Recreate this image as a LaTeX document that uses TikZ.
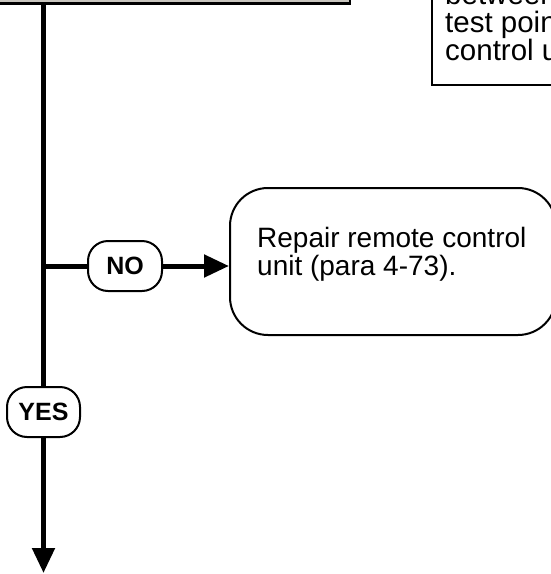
\documentclass[tikz,border=0pt]{standalone}
\usepackage{fontspec}
\setmainfont{Liberation Sans}
\usetikzlibrary{arrows.meta}
\definecolor{boxgray}{RGB}{200,197,190}
\begin{document}
\begin{tikzpicture}[x=1pt,y=-1pt,
  flow/.style={line width=5pt},
  tip/.style={-{Triangle[width=22pt,length=25pt]}},
  lbl/.style={draw,line width=2pt,rounded corners=20pt,minimum height=50pt,inner sep=0pt,
    font=\fontsize{25}{25}\selectfont\bfseries,fill=white},
  plainbox/.style={draw,line width=2pt,inner sep=0pt},
  txt/.style={font=\fontsize{28}{28}\selectfont,inner sep=0pt,anchor=base west,align=left}]
\useasboundingbox (0,0) rectangle (551,574);
\clip (0,0) rectangle (551,574);

% partially visible boxes
\node[plainbox,fill=boxgray,line width=2.5pt,minimum width=370pt,minimum height=83pt] (topbox) at (165,-38.2) {};
\node[plainbox,minimum width=208.5pt,minimum height=145pt] (qbox) at (535.75,12.5) {};
\node[txt,font=\fontsize{29.5}{28}\selectfont] (qtxt) at (445,60.5) {between\\test point J2-1 on remote\\control unit?};

% outcome box
\node[plainbox,rounded corners=38pt,minimum width=326pt,minimum height=147pt] (repair) at (393,261.5) {};
\node[txt] (repairtxt) at (257,275) {Repair remote control\\unit (para 4-73).};

% labels
\node[lbl,minimum width=74pt] (no) at (125,266) {NO};
\node[lbl,minimum width=73pt] (yes) at (43.5,412) {YES};

\coordinate (branch) at (43.5,266);
\coordinate (end) at (43.5,573);

\draw[flow] (topbox.south -| yes.north) -- (yes.north);
\draw[flow,tip] (yes.south) -- (end);
\draw[flow] (branch) -- (no.west);
\draw[flow,tip] (no.east) -- (no.east -| repair.west);
\end{tikzpicture}
\end{document}
